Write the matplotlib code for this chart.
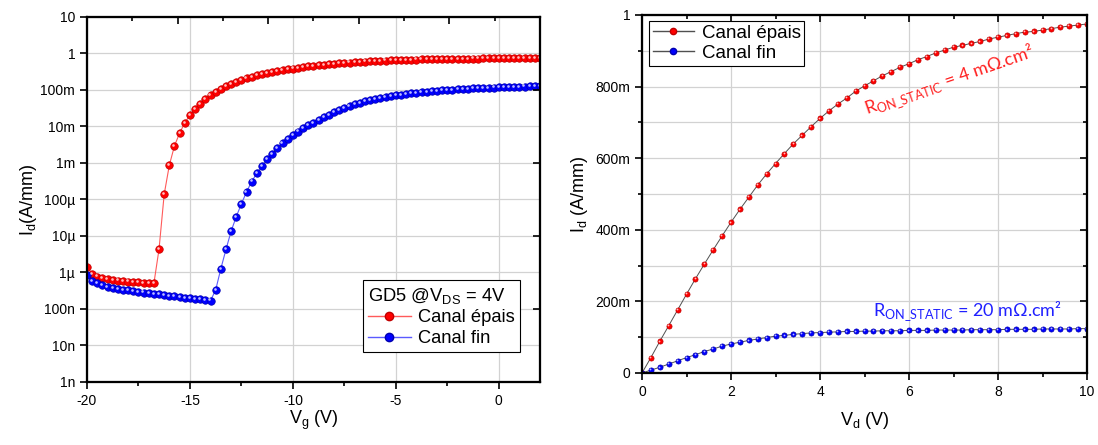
import numpy as np
import matplotlib
matplotlib.use("Agg")
from matplotlib import pyplot as plt
from matplotlib import transforms
from matplotlib.lines import Line2D
from matplotlib.ticker import FixedLocator, MultipleLocator, NullFormatter, FuncFormatter

plt.rcParams['font.family'] = ['Liberation Sans', 'DejaVu Sans']
plt.rcParams['axes.unicode_minus'] = False

# Id(Vg) @ Vds = 4V, pas 0.25 V de -20 a 2 V
vg_start, vg_stop, vg_n = -20.0, 2.0, 89
log_id_epais = [-5.84, -6.04, -6.11, -6.15, -6.18, -6.20, -6.22, -6.24, -6.25, -6.26, -6.27, -6.28, -6.29, -6.30,
                -5.36, -3.86, -3.06, -2.53, -2.18, -1.90, -1.69, -1.52, -1.375, -1.255, -1.145, -1.046, -0.964,
                -0.89, -0.827, -0.772, -0.718, -0.671, -0.635, -0.597, -0.562, -0.534,
                -0.507, -0.482, -0.458, -0.436, -0.414, -0.395, -0.375, -0.356, -0.340, -0.323, -0.310, -0.296,
                -0.282, -0.271, -0.260, -0.249, -0.238, -0.230, -0.222, -0.214, -0.205, -0.197, -0.192, -0.186, -0.181,
                -0.177, -0.173, -0.170, -0.167, -0.164, -0.161, -0.158, -0.155, -0.153, -0.150, -0.148, -0.146, -0.144,
                -0.142, -0.140, -0.138, -0.136, -0.134, -0.133, -0.131, -0.130, -0.128, -0.127, -0.126, -0.125,
                -0.124, -0.123, -0.122]
log_id_fin = [-6.07, -6.23, -6.30, -6.35, -6.39, -6.42, -6.45, -6.47, -6.49, -6.51, -6.53, -6.55, -6.57, -6.59,
              -6.60, -6.62, -6.64, -6.65, -6.67, -6.69, -6.70, -6.72, -6.73, -6.75, -6.77,
              -6.48, -5.90, -5.37, -4.87, -4.47, -4.12, -3.79, -3.51, -3.28, -3.08, -2.90, -2.75, -2.60, -2.46,
              -2.35, -2.24,
              -2.14, -2.05, -1.97, -1.90, -1.82, -1.75, -1.685, -1.61, -1.55, -1.49, -1.44, -1.395, -1.35, -1.31,
              -1.275, -1.245, -1.22, -1.195, -1.17, -1.15,
              -1.13, -1.11, -1.09, -1.075, -1.06, -1.045, -1.03, -1.02, -1.01, -1.0, -0.99, -0.98, -0.97, -0.965,
              -0.957, -0.95, -0.944, -0.938, -0.932, -0.927, -0.922, -0.918, -0.914, -0.91, -0.907, -0.904,
              -0.901, -0.898]

# Id(Vd), pas 0.2 V de 0 a 10 V
vd_start, vd_stop, vd_n = 0.0, 10.0, 51
id_epais = [0, 0.043, 0.0885, 0.132, 0.176, 0.22, 0.263, 0.304, 0.344, 0.383, 0.421, 0.457, 0.491, 0.525, 0.556,
            0.585, 0.613, 0.640, 0.664, 0.688, 0.711, 0.732, 0.751, 0.768, 0.787, 0.802, 0.816, 0.830, 0.842, 0.854,
            0.864, 0.875, 0.884, 0.894, 0.902, 0.910, 0.915, 0.921, 0.926, 0.933, 0.938, 0.943, 0.948, 0.952, 0.954,
            0.958, 0.962, 0.966, 0.969, 0.972, 0.975]
id_fin = [0, 0.008, 0.016, 0.025, 0.034, 0.043, 0.051, 0.060, 0.067, 0.075, 0.081,
          0.086, 0.091, 0.095, 0.099, 0.103, 0.105, 0.108, 0.110, 0.112, 0.113,
          0.114, 0.115, 0.116, 0.116, 0.117, 0.117, 0.118, 0.118, 0.118, 0.119,
          0.119, 0.119, 0.120, 0.120, 0.120, 0.120, 0.121, 0.121, 0.121, 0.121,
          0.122, 0.122, 0.122, 0.122, 0.123, 0.123, 0.123, 0.123, 0.124, 0.124]

log_labels = ['1n', '10n', '100n', '1µ', '10µ', '100µ', '1m', '10m', '100m', '1', '10']
lin_labels = ['0', '200m', '400m', '600m', '800m', '1']

vg = np.linspace(vg_start, vg_stop, vg_n)
vd = np.linspace(vd_start, vd_stop, vd_n)

fig = plt.figure(figsize=(10.98, 4.45), dpi=100)


def balls(ax, x, y, color, dark, ms, line, lw=0.8):
    ax.plot(x, y, '-', color=line, lw=lw, zorder=3)
    ax.plot(x, y, 'o', ms=ms, mfc=color, mec=dark, mew=0.5, lw=0, zorder=4)
    tr = transforms.offset_copy(ax.transData, fig=fig, x=-ms * 0.15, y=ms * 0.15, units='points')
    ax.plot(x, y, 'o', ms=ms * 0.35, mfc='white', mec='none', alpha=0.75, transform=tr, zorder=5)


def ticks(ax, direction):
    ax.tick_params(which='both', direction=direction, width=1.2)
    ax.tick_params(which='major', length=5)
    ax.tick_params(which='minor', length=3)


# ---- gauche : Id(Vg) ----
ax1 = fig.add_axes([0.0792, 0.1416, 0.4126, 0.8202])
ax1.set_yscale('log')
ax1.set_xlim(-20, 2)
ax1.set_ylim(1e-9, 10)
ax1.xaxis.set_major_locator(MultipleLocator(5))
ax1.xaxis.set_minor_locator(MultipleLocator(2.5))
ax1.yaxis.set_major_locator(FixedLocator([10.0 ** k for k in range(-9, 2)]))
ax1.yaxis.set_major_formatter(FuncFormatter(lambda v, p: log_labels[int(round(np.log10(v))) + 9]))
ax1.yaxis.set_minor_formatter(NullFormatter())
ax1.grid(True, which='major', color='#d2d2d2', lw=0.9)
ax1.grid(True, which='minor', axis='y', color='#d2d2d2', lw=0.7)
ax1.set_axisbelow(True)
ticks(ax1, 'out')
ax1.tick_params(labelsize=10)

balls(ax1, vg, 10 ** np.array(log_id_epais), 'red', '#c00000', 5.4, '#ff5a5a')
balls(ax1, vg, 10 ** np.array(log_id_fin), 'blue', '#0000b0', 5.4, '#5a5aff')

ax1.set_xlabel('V$_\\mathregular{g}$ (V)', fontsize=13, labelpad=1)
ax1.set_ylabel('I$_\\mathregular{d}$(A/mm)', fontsize=13, labelpad=1)

h1 = [Line2D([], [], color='#ff5a5a', lw=1, marker='o', ms=6, mfc='red', mec='#c00000'),
      Line2D([], [], color='#5a5aff', lw=1, marker='o', ms=6, mfc='blue', mec='#0000b0')]
leg1 = ax1.legend(h1, ['Canal épais', 'Canal fin'], title='GD5 @V$_\\mathregular{DS}$ = 4V',
                  loc='upper left', bbox_to_anchor=(0.609, 0.279), borderaxespad=0, fontsize=13.2,
                  title_fontsize=13.2, fancybox=False, edgecolor='black', framealpha=1,
                  handlelength=2.3, handletextpad=0.4, borderpad=0.3, labelspacing=0.2)
leg1._legend_box.align = 'left'
leg1.get_frame().set_linewidth(0.8)

ax1t = ax1.twiny()
ax1t.set_xlim(0, 5)
ax1t.xaxis.set_major_locator(MultipleLocator(1))
ax1t.xaxis.set_minor_locator(MultipleLocator(0.5))
ticks(ax1t, 'in')
ax1t.tick_params(labeltop=False)
ax1r = ax1.twinx()
ax1r.set_yscale('log')
ax1r.set_ylim(1e-9, 10)
ticks(ax1r, 'in')
ax1r.tick_params(labelright=False)
for a in (ax1, ax1t, ax1r):
    for s in a.spines.values():
        s.set_linewidth(1.5)

# ---- droite : Id(Vd) ----
ax2 = fig.add_axes([0.5847, 0.1618, 0.4053, 0.8045])
ax2.set_xlim(0, 10)
ax2.set_ylim(0, 1)
ax2.xaxis.set_major_locator(MultipleLocator(2))
ax2.xaxis.set_minor_locator(MultipleLocator(1))
ax2.yaxis.set_major_locator(FixedLocator([0, 0.2, 0.4, 0.6, 0.8, 1.0]))
ax2.yaxis.set_minor_locator(MultipleLocator(0.1))
ax2.yaxis.set_major_formatter(FuncFormatter(lambda v, p: lin_labels[int(round(v * 5))]))
ax2.grid(True, which='major', color='#d2d2d2', lw=0.9)
ax2.grid(True, which='minor', axis='y', color='#d2d2d2', lw=0.9)
ax2.set_axisbelow(True)
ticks(ax2, 'out')
ax2.tick_params(labelsize=10)

balls(ax2, vd, id_epais, 'red', '#c00000', 3.7, '#505050', lw=0.7)
balls(ax2, vd, id_fin, 'blue', '#0000b0', 3.7, '#505050', lw=0.7)

ax2.set_xlabel('V$_\\mathregular{d}$ (V)', fontsize=13, labelpad=8)
ax2.set_ylabel('I$_\\mathregular{d}$ (A/mm)', fontsize=13, labelpad=4)

h2 = [Line2D([], [], color='#505050', lw=1, marker='o', ms=4.5, mfc='red', mec='#c00000'),
      Line2D([], [], color='#505050', lw=1, marker='o', ms=4.5, mfc='blue', mec='#0000b0')]
leg2 = ax2.legend(h2, ['Canal épais', 'Canal fin'], loc='upper left', bbox_to_anchor=(0.016, 0.983),
                  borderaxespad=0, fontsize=13.5, fancybox=False, edgecolor='black', framealpha=1,
                  handlelength=2.2, handletextpad=0.4, borderpad=0.2, labelspacing=0.15)
leg2.get_frame().set_linewidth(0.8)

ax2.text(5.05, 0.722, 'R$_\\mathregular{ON\\_STATIC}$ = 4 mΩ.cm²', color='#ff2020', fontsize=13,
         family=['Lato', 'DejaVu Sans'], rotation=19, rotation_mode='anchor', ha='left', va='baseline', zorder=6)
ax2.text(5.2, 0.159, 'R$_\\mathregular{ON\\_STATIC}$ = 20 mΩ.cm²', color='#2020ff', fontsize=13,
         family=['Lato', 'DejaVu Sans'], ha='left', va='baseline', zorder=6)

ax2t = ax2.twiny()
ax2t.set_xlim(0, 10)
ax2t.xaxis.set_major_locator(MultipleLocator(2))
ax2t.xaxis.set_minor_locator(MultipleLocator(1))
ticks(ax2t, 'in')
ax2t.tick_params(labeltop=False)
ax2r = ax2.twinx()
ax2r.set_ylim(0, 1)
ax2r.yaxis.set_major_locator(MultipleLocator(0.2))
ax2r.yaxis.set_minor_locator(MultipleLocator(0.1))
ticks(ax2r, 'in')
ax2r.tick_params(labelright=False)
for a in (ax2, ax2t, ax2r):
    for s in a.spines.values():
        s.set_linewidth(1.5)

fig.savefig('out.png', dpi=100)
